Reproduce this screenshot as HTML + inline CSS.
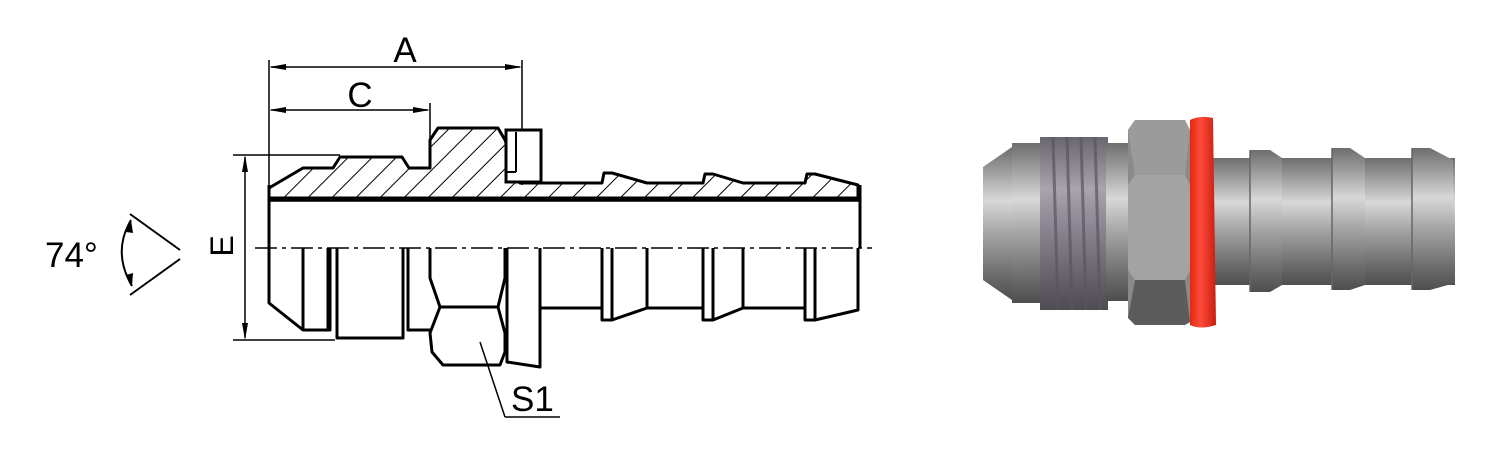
<!DOCTYPE html>
<html><head><meta charset="utf-8"><style>
html,body{margin:0;padding:0;background:#fff;}
svg{display:block;}
text{font-family:"Liberation Sans",Arial,sans-serif;fill:#000;}
</style></head><body>
<svg width="1500" height="450" viewBox="0 0 1500 450" xmlns="http://www.w3.org/2000/svg">
<defs>
<pattern id="hatch" patternUnits="userSpaceOnUse" width="17" height="17" patternTransform="rotate(45)">
<line x1="0" y1="0" x2="0" y2="17" stroke="#000" stroke-width="2"/>
</pattern>
<linearGradient id="g" x1="0" y1="0" x2="0" y2="1">
<stop offset="0" stop-color="#6e6e6e"/><stop offset="0.15" stop-color="#9a9a9a"/>
<stop offset="0.35" stop-color="#d8d8d8"/><stop offset="0.55" stop-color="#a8a8a8"/>
<stop offset="0.85" stop-color="#6a6a6a"/><stop offset="1" stop-color="#4e4e4e"/>
</linearGradient>
<linearGradient id="gt" x1="0" y1="0" x2="0" y2="1">
<stop offset="0" stop-color="#6a6670"/><stop offset="0.3" stop-color="#a8a4ae"/>
<stop offset="0.5" stop-color="#8d8994"/><stop offset="1" stop-color="#4e4b53"/>
</linearGradient>
<linearGradient id="gr" x1="0" y1="0" x2="1" y2="0">
<stop offset="0" stop-color="#e02a10"/><stop offset="0.4" stop-color="#ff4a3a"/><stop offset="1" stop-color="#c81f10"/>
</linearGradient>
</defs>

<!-- Dimensions -->
<g stroke="#000" stroke-width="1.5" fill="none">
<line x1="269" y1="60" x2="269" y2="200"/>
<line x1="522" y1="60" x2="522" y2="185"/>
<line x1="430" y1="103" x2="430" y2="150"/>
<line x1="271" y1="67" x2="520" y2="67"/>
<line x1="271" y1="110" x2="428" y2="110"/>
<line x1="233" y1="155" x2="340" y2="155"/>
<line x1="233" y1="340" x2="335" y2="340"/>
<line x1="245" y1="157" x2="245" y2="338"/>
</g>
<g fill="#000">
<polygon points="269,67 286,64 286,70"/><polygon points="522,67 505,64 505,70"/>
<polygon points="269,110 286,107 286,113"/><polygon points="430,110 413,107 413,113"/>
<polygon points="245,155 242,172 248,172"/><polygon points="245,340 242,323 248,323"/>
</g>
<text x="405" y="62" font-size="35" text-anchor="middle">A</text>
<text x="360" y="107" font-size="35" text-anchor="middle">C</text>
<text transform="translate(233,246) rotate(-90)" font-size="32" text-anchor="middle">E</text>

<!-- angle -->
<text x="45" y="267" font-size="35">74°</text>
<g stroke="#000" stroke-width="2" fill="none">
<line x1="130" y1="214" x2="180" y2="250"/>
<line x1="130" y1="295" x2="180" y2="259"/>
<path d="M131,220 Q112,252 132,286"/>
</g>
<polygon points="131,220 126,232 133,233" fill="#000"/>
<polygon points="132,286 126,275 133,273" fill="#000"/>

<!-- centerline -->
<line x1="255" y1="248" x2="872" y2="248" stroke="#000" stroke-width="1.5" stroke-dasharray="22,5,4,5"/>

<!-- section top -->
<path d="M269,200 L269,188 L303,168 L333,168 L340,157 L402,157 L409,168 L430,168 L430,140 L438,128 L498,128 L505,140 L520,183 L602,183 L604,173 L612,173 L647,183 L703,183 L705,174 L713,174 L743,183 L805,183 L807,174 L815,174 L858,185 L858,198 L269,198 Z" fill="url(#hatch)" stroke="#000" stroke-width="3" stroke-linejoin="round"/>
<line x1="269" y1="200" x2="860" y2="200" stroke="#000" stroke-width="3.5"/>
<line x1="269" y1="185" x2="269" y2="248" stroke="#000" stroke-width="3"/>
<line x1="860" y1="185" x2="860" y2="248" stroke="#000" stroke-width="3"/>
<!-- washer top -->
<rect x="506" y="130" width="35" height="52" fill="#fff" stroke="#000" stroke-width="3"/>
<line x1="516" y1="132" x2="516" y2="172" stroke="#000" stroke-width="2"/>
<line x1="506" y1="172" x2="516" y2="172" stroke="#000" stroke-width="2"/>
<line x1="541" y1="183" x2="602" y2="183" stroke="#000" stroke-width="3"/>

<!-- bottom view -->
<g stroke="#000" stroke-width="3" fill="none" stroke-linejoin="round">
<path d="M269,248 L269,303 L303,330 L330,330 L330,248"/>
<line x1="303" y1="248" x2="303" y2="330"/>
<line x1="328" y1="248" x2="328" y2="330"/>
<path d="M337,248 L337,338 L403,338 L403,248"/>
<path d="M408,248 L408,330 L430,330"/>
<path d="M430,248 L430,278 L440,307 L498,307 L505,278 L505,248"/>
<path d="M440,307 L430,333 L432,352 L443,365 L500,365 L505,352 L505,333 L498,307"/>
<path d="M507,248 L507,362 L540,367 L540,248"/>
<line x1="540" y1="308" x2="602" y2="308"/>
<path d="M602,248 L602,320 L612,320 L647,308 L647,248"/>
<line x1="612" y1="248" x2="612" y2="320"/>
<line x1="647" y1="308" x2="703" y2="308"/>
<path d="M703,248 L703,320 L713,320 L743,308 L743,248"/>
<line x1="713" y1="248" x2="713" y2="320"/>
<line x1="743" y1="308" x2="805" y2="308"/>
<path d="M805,248 L805,320 L815,320 L858,310 L858,248"/>
<line x1="815" y1="248" x2="815" y2="320"/>
</g>
<line x1="480" y1="342" x2="505" y2="417" stroke="#000" stroke-width="1.5"/>
<line x1="505" y1="417" x2="560" y2="417" stroke="#000" stroke-width="1.5"/>
<text x="511" y="411" font-size="35">S1</text>

<!-- 3D render -->
<polygon points="983,167 1012,147 1012,300 983,280" fill="url(#g)"/>
<rect x="1012" y="143" width="30" height="160" fill="url(#g)"/>
<rect x="1040" y="137" width="68" height="173" fill="url(#gt)"/>
<g stroke="#5a5660" stroke-width="3" opacity="0.7">
<line x1="1053" y1="137" x2="1058" y2="310"/><line x1="1067" y1="137" x2="1072" y2="310"/>
<line x1="1081" y1="137" x2="1086" y2="310"/><line x1="1095" y1="137" x2="1100" y2="310"/>
</g>
<rect x="1106" y="143" width="24" height="158" fill="url(#g)"/>
<polygon points="1128,130 1135,120 1185,120 1190,130 1190,322 1185,325 1135,325 1128,318" fill="#8a8a8a"/>
<polygon points="1128,185 1135,175 1185,175 1190,185 1190,270 1185,280 1135,280 1128,270" fill="#a3a3a3"/>
<polygon points="1128,130 1135,120 1185,120 1190,130 1185,175 1135,175" fill="#9b9b9b"/>
<polygon points="1128,318 1135,325 1185,325 1190,322 1185,280 1135,280" fill="#5c5c5c"/>
<rect x="1205" y="158" width="250" height="127" fill="url(#g)"/>
<polygon points="1250,150 1270,150 1282,158 1282,285 1270,292 1250,292" fill="url(#g)"/>
<polygon points="1332,148 1350,148 1365,158 1365,285 1350,290 1332,290" fill="url(#g)"/>
<polygon points="1412,148 1430,148 1453,160 1455,283 1430,290 1412,290" fill="url(#g)"/>
<line x1="1250" y1="150" x2="1250" y2="292" stroke="#666" stroke-width="1.5"/>
<line x1="1332" y1="148" x2="1332" y2="290" stroke="#666" stroke-width="1.5"/>
<line x1="1412" y1="148" x2="1412" y2="290" stroke="#666" stroke-width="1.5"/>
<path d="M1190,120 Q1200,115 1213,118 L1216,325 Q1200,330 1190,325 Z" fill="url(#gr)"/>
</svg>
</body></html>
